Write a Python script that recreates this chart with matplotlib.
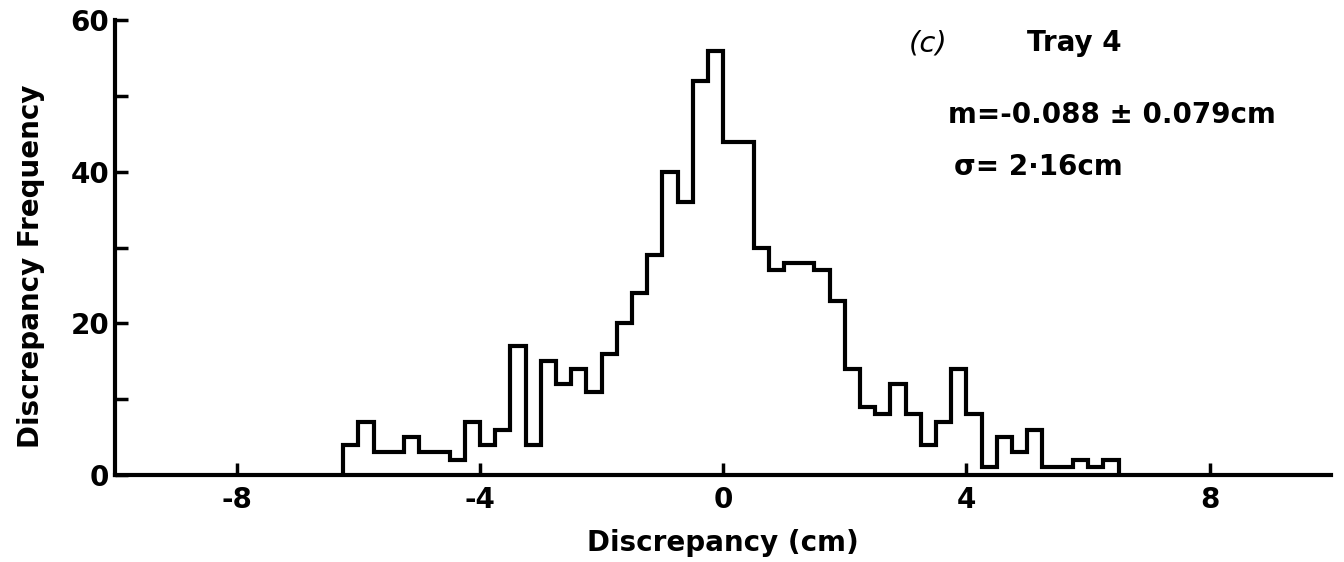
"""Histogram of tray 4 discrepancies, panel (c)."""
import numpy as np
import matplotlib
matplotlib.use("Agg")
import matplotlib.pyplot as plt

plt.rcParams["axes.unicode_minus"] = False
plt.rcParams["font.family"] = ["DejaVu Sans"]

# bin edges every 0.25 cm, from -6.25 to 6.5
bin_lo, bin_hi, bin_w = -6.25, 6.5, 0.25
counts = [4, 7, 3, 3, 5, 3, 3, 2, 7, 4, 6, 17, 4,
          15, 12, 14, 11, 16, 20, 24, 29, 40, 36, 52, 56,
          44, 44, 30, 27, 28, 28, 27, 23, 14, 9, 8, 12, 8, 4, 7, 14,
          8, 1, 5, 3, 6, 1, 1, 2, 1, 2]
edges = np.linspace(bin_lo, bin_hi, len(counts) + 1)

xticks = [-8, -4, 0, 4, 8]
yticks = [0, 20, 40, 60]
yminor = [10, 30, 50]

INK = "black"
FS = 20
fig = plt.figure(figsize=(13.44, 5.62), dpi=100)
ax = fig.add_axes([0.0856, 0.1548, 0.905, 0.809])

ax.stairs(counts, edges, color=INK, lw=3, baseline=0, zorder=3)

ax.set_xlim(-10, 10)
ax.set_ylim(0, 60)
for s in ("top", "right"):
    ax.spines[s].set_visible(False)
for s in ("left", "bottom"):
    ax.spines[s].set_linewidth(3)

ax.set_xticks(xticks)
ax.set_xticklabels([str(t) for t in xticks])
ax.set_yticks(yticks)
ax.set_yticks(yminor, minor=True)
ax.tick_params(axis="both", which="both", direction="in", length=9, width=2.5,
               labelsize=FS)
ax.tick_params(axis="x", pad=8)
ax.tick_params(axis="y", pad=4)
for lab in ax.get_xticklabels() + ax.get_yticklabels():
    lab.set_fontweight("bold")

ax.set_xlabel("Discrepancy (cm)", fontsize=FS, fontweight="bold", va="center")
ax.xaxis.set_label_coords(0.5, -0.15)
ax.set_ylabel("Discrepancy Frequency", fontsize=FS, fontweight="bold",
              va="center")
ax.yaxis.set_label_coords(-0.069, 0.46)

ax.text(3.05, 57, "(c)", fontsize=FS + 1, style="italic", va="center")
ax.text(5.0, 57, "Tray 4", fontsize=FS, fontweight="bold", va="center")
ax.text(3.7, 47.5, "m=-0.088 ± 0.079cm", fontsize=FS, fontweight="bold",
        va="center")
ax.text(3.8, 40.6, "σ= 2·16cm", fontsize=FS, fontweight="bold", va="center")

fig.savefig("out.png", dpi=100, facecolor="white")
